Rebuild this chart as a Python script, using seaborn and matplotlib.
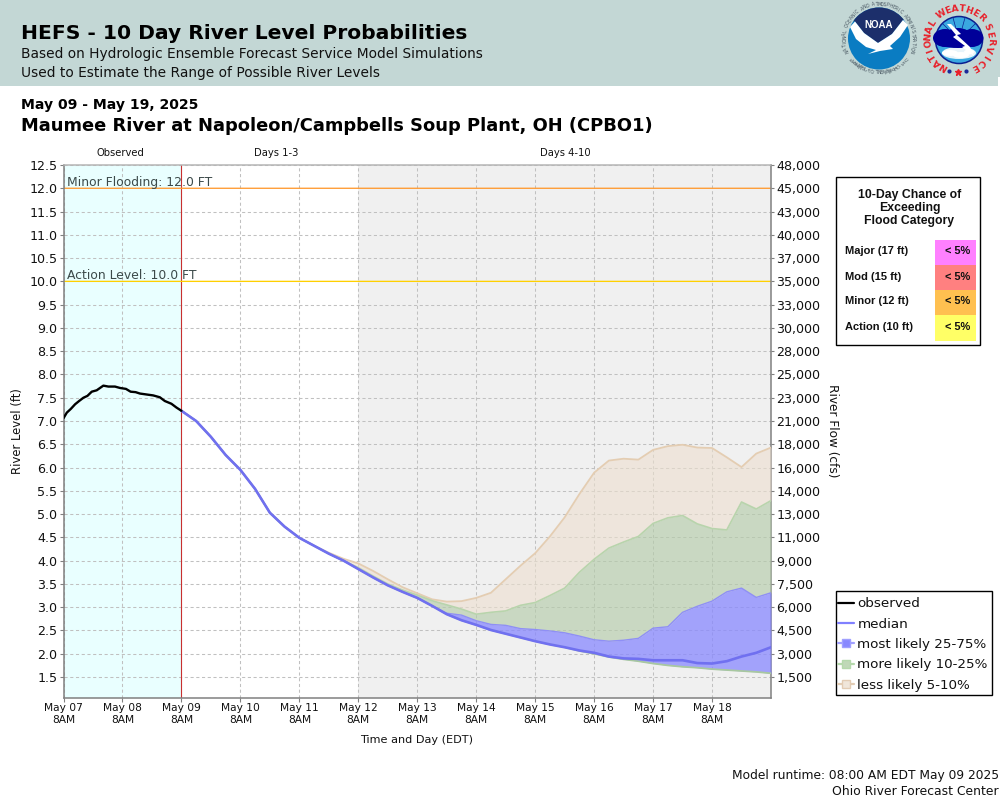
import numpy as np
import pandas as pd
import matplotlib
matplotlib.use("Agg")
import matplotlib.pyplot as plt
from matplotlib.lines import Line2D
from matplotlib.patches import Rectangle, Circle, Polygon, Wedge, Ellipse
import seaborn as sns

# ---- data -----
day_labels = ["May 07","May 08","May 09","May 10","May 11","May 12","May 13","May 14","May 15","May 16","May 17","May 18"]
left_ticks = [1.5,2.0,2.5,3.0,3.5,4.0,4.5,5.0,5.5,6.0,6.5,7.0,7.5,8.0,8.5,9.0,9.5,10.0,10.5,11.0,11.5,12.0,12.5]
flow_labels = ["1,500","3,000","4,500","6,000","7,500","9,000","11,000","13,000","14,000","16,000","18,000","21,000",
               "23,000","25,000","28,000","30,000","33,000","35,000","37,000","40,000","43,000","45,000","48,000"]
obs_t = [0,0.056,0.124,0.197,0.265,0.338,0.406,0.479,0.563,0.676,0.761,0.873,0.958,1.059,1.138,1.223,1.296,1.408,1.521,1.634,1.718,1.831,1.915,2.0]
obs_ft = [7.06,7.18,7.26,7.36,7.43,7.50,7.54,7.63,7.66,7.76,7.74,7.74,7.71,7.69,7.63,7.62,7.59,7.57,7.55,7.51,7.43,7.37,7.29,7.22]
fc_t = [2+0.25*i for i in range(41)]
common = [7.22,7.00,6.66,6.27,5.95,5.54,5.03,4.73,4.49,4.32,4.15,4.00]
median = common + [3.82,3.64,3.47,3.33,3.20,3.03,2.85,2.72,2.62,2.51,2.43,2.35,2.27,2.20,2.14,2.07,2.02,1.94,1.90,1.89,1.86,1.86,1.86,1.80,1.79,1.84,1.94,2.02,2.14]
low    = common + [3.82,3.64,3.47,3.33,3.20,3.03,2.85,2.72,2.62,2.51,2.43,2.35,2.27,2.20,2.14,2.06,2.00,1.93,1.88,1.84,1.79,1.75,1.72,1.70,1.67,1.65,1.63,1.61,1.58]
p75    = common + [3.82,3.64,3.47,3.33,3.20,3.03,2.87,2.83,2.71,2.63,2.61,2.54,2.52,2.49,2.45,2.38,2.30,2.27,2.29,2.33,2.55,2.58,2.89,3.02,3.13,3.33,3.41,3.21,3.31]
p90    = common + [3.85,3.67,3.50,3.37,3.26,3.14,3.05,2.96,2.85,2.89,2.92,3.04,3.10,3.25,3.41,3.75,4.03,4.27,4.40,4.52,4.80,4.92,4.97,4.79,4.69,4.66,5.26,5.11,5.29]
p95    = common[:-2] + [4.17,4.04,3.94,3.78,3.60,3.43,3.30,3.17,3.12,3.13,3.20,3.31,3.60,3.89,4.16,4.52,4.93,5.43,5.89,6.15,6.19,6.17,6.38,6.46,6.49,6.43,6.42,6.22,6.01,6.30,6.43]
flood_rows = ["Major (17 ft)","Mod (15 ft)","Minor (12 ft)","Action (10 ft)"]
flood_vals = ["< 5%","< 5%","< 5%","< 5%"]

sns.set_theme(style="white")
plt.rcParams['font.family'] = ['DejaVu Sans']
fig = plt.figure(figsize=(10,8), dpi=100, facecolor="white")

W,H = 1000,800
L,R,T,B = 63.5,771,165,697.5
ax = fig.add_axes([L/W, 1-B/H, (R-L)/W, (B-T)/H])
ax.set_xlim(0,12); ax.set_ylim(1.06,12.5)
ax.set_facecolor("white")
ax.axvspan(0,2,color="#e9ffff",lw=0,zorder=0)
ax.axvspan(5,12,color="#f0f0f0",lw=0,zorder=0)
ax.set_axisbelow(True)
ax.set_xticks(range(12)); ax.set_yticks(left_ticks)
ax.set_xticklabels([f"{d}\n8AM" for d in day_labels], fontsize=7.7, linespacing=1.15, color="#111111")
ax.set_yticklabels([f"{v:.1f}" for v in left_ticks], fontsize=9.1, color="#111111")
ax.grid(True, color="#c0c0c0", ls=(0,(3,2.5)), lw=0.75)
# the two flood-level rows carry their own coloured lines instead of a grid line
for tick,v in zip(ax.yaxis.get_major_ticks(),left_ticks):
    if v in (10.0,12.0):
        tick.gridline.set_visible(False)
ax.tick_params(axis='both', length=3, width=0.8, color="#808080", bottom=True, left=True)
ax.tick_params(axis='y', pad=1.5)
ax.tick_params(axis='x', pad=1.3)
for s in ax.spines.values():
    s.set_color("#808080"); s.set_linewidth(1.1)
ax.spines['top'].set_color("#b5b5b5"); ax.spines['top'].set_linestyle((0,(2,1)))

for level,col in ((12.0,"#ff9a30"),(10.0,"#ffd000")):
    hl = ax.axhline(level,color=col,lw=0.95,zorder=2.5)
    hl.set_snap(False)
ax.axvline(2,color="#c83030",lw=0.8,zorder=2)
ax.text(0.06,12.0-0.01,"Minor Flooding: 12.0 FT",fontsize=8.9,color="#3c4a4a",va='bottom')
ax.text(0.06,10.0-0.01,"Action Level: 10.0 FT",fontsize=8.9,color="#3c4a4a",va='bottom')

fc = pd.DataFrame(dict(t=fc_t,median=median,low=low,p75=p75,p90=p90,p95=p95))
obs = pd.DataFrame(dict(t=obs_t,ft=obs_ft))
ax.fill_between(fc.t,fc.p90,fc.p95,color="#eddfcf",alpha=0.6,lw=0,zorder=3)
ax.fill_between(fc.t,fc.p75,fc.p90,color="#b5ccaa",alpha=0.65,lw=0,zorder=3)
ax.fill_between(fc.t,low,fc.p75,color="#8888ff",alpha=0.75,lw=0,zorder=3)
sns.lineplot(data=fc,x="t",y="p95",ax=ax,color="#e4cdb2",lw=1.3,zorder=4)
sns.lineplot(data=fc,x="t",y="p90",ax=ax,color="#b8d4ac",lw=1.2,zorder=4)
sns.lineplot(data=fc,x="t",y="p75",ax=ax,color="#8f8ff5",lw=1.0,zorder=4)
sns.lineplot(data=fc,x="t",y="low",ax=ax,color="#a8c8a0",lw=1.3,zorder=4)
sns.lineplot(data=fc,x="t",y="median",ax=ax,color="#7070f0",lw=1.9,zorder=5)
sns.lineplot(data=obs,x="t",y="ft",ax=ax,color="black",lw=1.7,zorder=6)
ax.set_xlabel(""); ax.set_ylabel("")

ax2 = ax.twinx()
ax2.set_ylim(ax.get_ylim())
ax2.set_yticks(left_ticks); ax2.set_yticklabels(flow_labels,fontsize=9.1,color="#111111")
ax2.tick_params(axis='y',length=2.2,width=0.8,color="#808080",pad=1.8,right=True)
ax2.grid(False)
for s in ax2.spines.values(): s.set_visible(False)

# overlay in pixel coordinates
ov = fig.add_axes([0,0,1,1],zorder=10); ov.set_xlim(0,W); ov.set_ylim(H,0); ov.axis('off'); ov.patch.set_alpha(0)
ov.add_patch(Rectangle((0,0),W,86,color="#c3d7d5",lw=0))
ov.add_patch(Rectangle((998,77),2,9,color="white",lw=0))
ov.text(21,39,"HEFS - 10 Day River Level Probabilities",fontsize=14.6,fontweight='bold',color="black",va='baseline')
ov.text(21,58,"Based on Hydrologic Ensemble Forecast Service Model Simulations",fontsize=9.86,color="#111111",va='baseline')
ov.text(21,77,"Used to Estimate the Range of Possible River Levels",fontsize=9.86,color="#111111",va='baseline')
ov.text(21,109,"May 09 - May 19, 2025",fontsize=10.08,fontweight='bold',color="black",va='baseline')
ov.text(21,131,"Maumee River at Napoleon/Campbells Soup Plant, OH (CPBO1)",fontsize=12.91,fontweight='bold',color="black",va='baseline')
ov.text(120,153.5,"Observed",fontsize=7.2,ha='center',va='center',color="#111111")
ov.text(276,153.5,"Days 1-3",fontsize=7.2,ha='center',va='center',color="#111111")
ov.text(565,153.5,"Days 4-10",fontsize=7.2,ha='center',va='center',color="#111111")
ov.text(18,431,"River Level (ft)",fontsize=8.4,rotation=90,ha='center',va='center',color="#111111")
ov.text(832,431,"River Flow (cfs)",fontsize=8.7,rotation=-90,ha='center',va='center',color="#111111")
ov.text(417,740,"Time and Day (EDT)",fontsize=8.1,ha='center',va='center',color="#111111")
ov.text(999,779,"Model runtime: 08:00 AM EDT May 09 2025",fontsize=8.8,ha='right',va='baseline',color="#111111")
ov.text(999,795,"Ohio River Forecast Center",fontsize=8.9,ha='right',va='baseline',color="#111111")

# flood category box
ov.add_patch(Rectangle((836,177),144,168,fc="white",ec="black",lw=1.0))
for i,line in enumerate(["10-Day Chance of","Exceeding","Flood Category"]):
    ov.text(909.5,195+13*i,line,family="Liberation Sans",fontweight='bold',fontsize=8.8,ha='center',va='center',color="#111111")
cell_cols = ["#ff80ff","#ff8080","#ffc050","#ffff66"]
for i,(r,v,c) in enumerate(zip(flood_rows,flood_vals,cell_cols)):
    y0 = 240+25*i
    ov.add_patch(Rectangle((935,y0),41,25 + (1 if i==3 else 0),fc=c,lw=0))
    ov.text(845,y0+11.5,r,family="Liberation Sans",fontweight='bold',fontsize=8.0,va='center',color="#111111")
    ov.text(957.5,y0+11.5,v,family="Liberation Sans",fontweight='bold',fontsize=7.9,ha='center',va='center',color="#111111")

# legend: frame drawn apart so its size can match
ov.add_patch(Rectangle((835.5,591),156,104,fc="white",ec="black",lw=1.0,zorder=1))
handles = [Line2D([],[],color="black",lw=1.6),
           Line2D([],[],color="#8080ff",lw=1.6),
           Line2D([],[],color="#a0a0ff",lw=1.6,marker='s',ms=6,mfc="#8888ff",mec="#a0a0ff"),
           Line2D([],[],color="#b5d8ac",lw=1.6,marker='s',ms=6,mfc="#c0d8b8",mec="#b5d8ac"),
           Line2D([],[],color="#e2ccb4",lw=1.6,marker='s',ms=6,mfc="#f0e6da",mec="#e2ccb4")]
labs = ["observed","median","most likely 25-75%","more likely 10-25%","less likely 5-10%"]
leg = ov.legend(handles,labs,loc='upper left',bbox_to_anchor=(833.5/W,1-593/H),bbox_transform=fig.transFigure,
                fontsize=9.7,frameon=False,borderpad=0.33,
                labelspacing=0.54,handlelength=1.2,handletextpad=0.25,borderaxespad=0)
for t in leg.get_texts(): t.set_color("#111111")

# NOAA logo
def poly(pts,**k):
    p = Polygon(pts,closed=True,lw=0,**k); ov.add_patch(p); return p
cx,cy = 879,38.5
disc = Circle((cx,cy),31,fc="#0a7cc2",lw=0,zorder=3); ov.add_patch(disc)
navy = poly([(845,0),(913,0),(913,20),(903,20),(892,34),(878,43),(864,33),(855,21.5),(845,20)],fc="#1c2f6b",zorder=4)
navy.set_clip_path(disc)
wing = poly([(850,27),(855,21.5),(864,33),(878,43),(892,34),(903,20),(908,25),(900,37),(890,46),(893,49),(880,51),(868,54),(876,50),(866,47),(856,39)],fc="white",zorder=5)
ov.text(879,25,"NOAA",family="Liberation Sans",fontsize=7,fontweight='bold',color="white",ha='center',va='center',zorder=6)
def ring(txt,cx,cy,r,a0,a1,**k):
    for ch,a in zip(txt,np.linspace(a0,a1,len(txt))):
        th = np.radians(a)
        ov.text(cx+r*np.sin(th),cy-r*np.cos(th),ch,rotation=-a,ha='center',va='center',**k)
ring("NATIONAL OCEANIC AND ATMOSPHERIC ADMINISTRATION",cx,cy,34.3,-112,112,fontsize=3.3,color="#46545f",zorder=6)
for ch,a in zip("U.S. DEPARTMENT OF COMMERCE",np.linspace(-50,50,27)):
    th=np.radians(a)
    ov.text(cx-34.3*np.sin(th),cy+34.3*np.cos(th),ch,rotation=a,ha='center',va='center',fontsize=3.3,color="#46545f",zorder=6)

# NWS logo
nx,ny = 959,40
base = Circle((nx,ny),23.5,fc="#3aa8e0",ec="#0b1f8f",lw=1.1,zorder=3); ov.add_patch(base)
for a in (-45,-15,15,45):
    th=np.radians(a)
    ov.plot([nx+12*np.sin(th),nx+23*np.sin(th)],[ny-12*np.cos(th),ny-23*np.cos(th)],color="#0b1f8f",lw=0.5,zorder=3.5)
bottom = Ellipse((nx,ny+13),34,12,fc="#e8f4fa",lw=0,zorder=3.5); ov.add_patch(bottom)
for (ex,ey,ew,eh) in [(945,38,24,18),(958,36,26,16),(972,38,23,18),(958,42,44,12)]:
    ov.add_patch(Ellipse((ex,ey),ew,eh,fc="#000099",lw=0,zorder=4))
for (ex,ey,ew,eh) in [(950,53,16,6),(961,55,16,6),(969,52,10,5)]:
    ov.add_patch(Ellipse((ex,ey),ew,eh,fc="white",lw=0,zorder=4))
poly([(947,24),(951,24),(961,34),(957,35),(970,47),(974,56),(962,47),(965,46),(953,37),(956,35)],fc="white",zorder=5)
ring("NATIONAL",nx,ny,31,-149,-58,fontsize=6.6,fontweight='bold',color="#e8202a",zorder=6)
ring("WEATHER",nx,ny,31,-34,45,fontsize=6.6,fontweight='bold',color="#e8202a",zorder=6)
ring("SERVICE",nx,ny,31,65,150,fontsize=6.6,fontweight='bold',color="#e8202a",zorder=6)
ov.plot([949,966],[71,71],ls='none',marker='o',ms=2,color="#1a2a9a",zorder=6)
ov.plot([958],[72],ls='none',marker='*',ms=4.5,color="#e8202a",zorder=6)

fig.savefig("out.png",dpi=100)
